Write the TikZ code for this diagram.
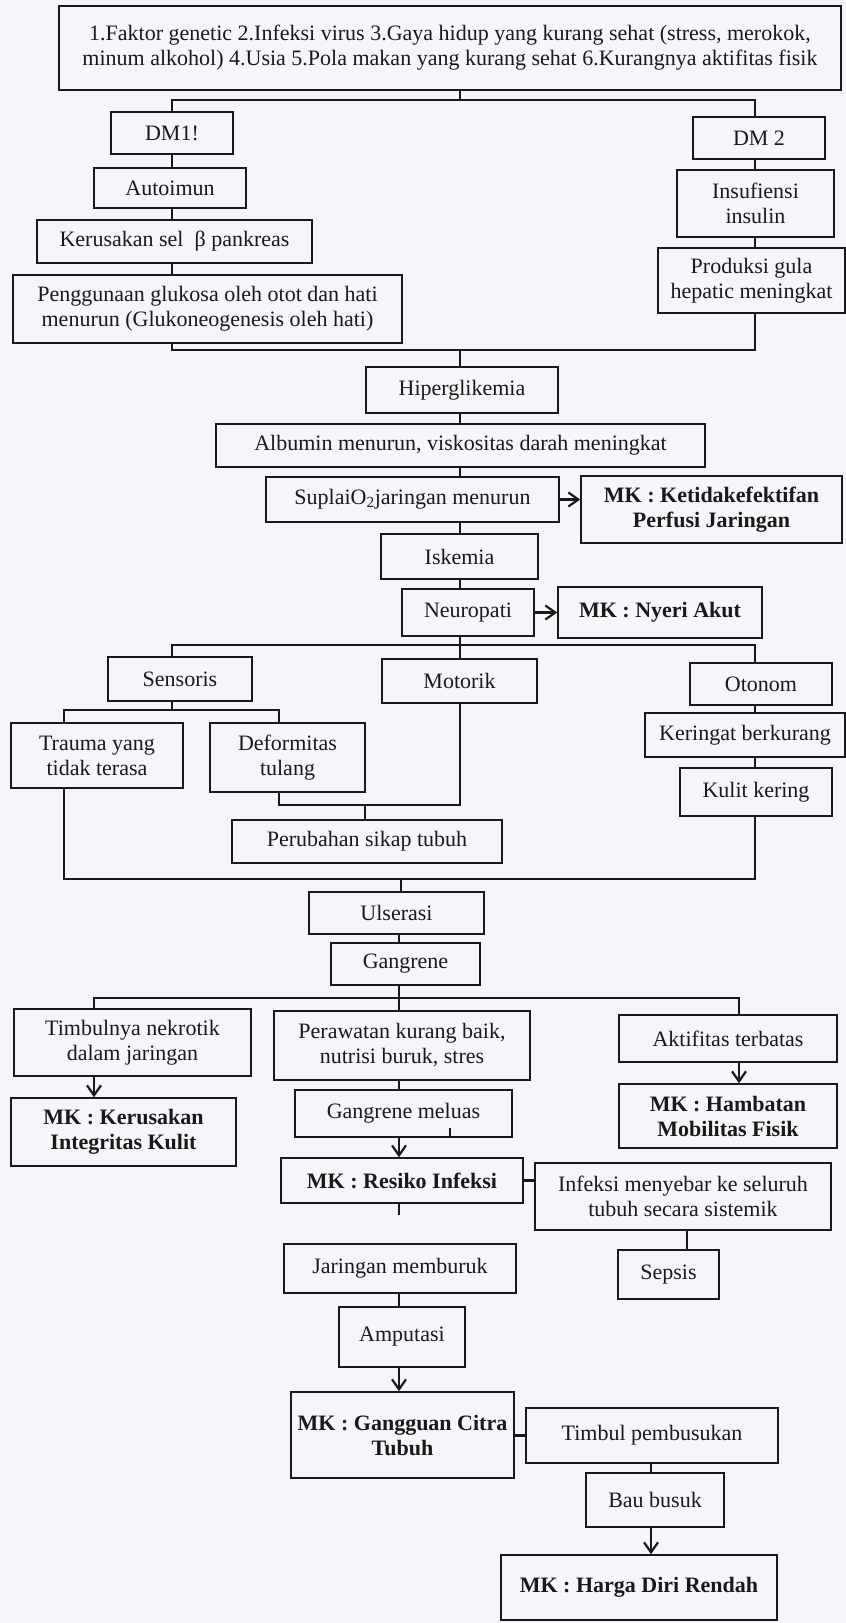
\documentclass[tikz,border=0pt]{standalone}
\usepackage{fontspec}
\setmainfont{Liberation Serif}
\usetikzlibrary{arrows.meta}
\newcommand\myfs{\fontsize{22}{25}\selectfont}
\definecolor{bgc}{RGB}{246,246,250}
\definecolor{ink}{RGB}{25,25,25}
\begin{document}
\begin{tikzpicture}[x=1pt,y=-1pt,
  box/.style={draw=ink, line width=1.5pt, inner sep=0pt, align=center, font=\myfs, text=ink},
  mk/.style={box, font=\myfs\bfseries},
  conn/.style={draw=ink, line width=2.4pt},
  arr/.style={conn, -{Straight Barb[length=10pt,width=14pt,line width=2.2pt]}}]
\useasboundingbox (0,0) rectangle (846,1623);
\fill[bgc] (0,0) rectangle (846,1623);
% nodes
\node[box, minimum width=782pt, minimum height=84pt] (top) at (450,48) {1.Faktor genetic 2.Infeksi virus 3.Gaya hidup yang kurang sehat (stress, merokok,\\ minum alkohol) 4.Usia 5.Pola makan yang kurang sehat 6.Kurangnya aktifitas fisik};
\node[box, minimum width=122pt, minimum height=42pt] (dm1) at (172,133) {DM1!};
\node[box, minimum width=132pt, minimum height=42pt] (dm2) at (759,138) {DM 2};
\node[box, minimum width=152pt, minimum height=40pt] (auto) at (170,188) {Autoimun};
\node[box, minimum width=275pt, minimum height=43pt] (kerus) at (174.5,241.5) {Kerusakan sel \ β pankreas};
\node[box, minimum width=389pt, minimum height=68pt] (peng) at (207.5,309) {Penggunaan glukosa oleh otot dan hati\\ menurun (Glukoneogenesis oleh hati)};
\node[box, minimum width=157pt, minimum height=67pt] (insuf) at (755.5,203.5) {Insufiensi\\ insulin};
\node[box, minimum width=187pt, minimum height=65pt] (prod) at (751.5,280.5) {Produksi gula\\ hepatic meningkat};
\node[box, minimum width=192pt, minimum height=46pt] (hiper) at (462,390) {Hiperglikemia};
\node[box, minimum width=489pt, minimum height=43pt] (albumin) at (460.5,445.5) {Albumin menurun, viskositas darah meningkat};
\node[box, minimum width=293pt, minimum height=45pt] (suplai) at (412.5,499.5) {SuplaiO\textsubscript{2}jaringan menurun};
\node[mk, minimum width=261pt, minimum height=67pt] (mkperf) at (711.5,509.5) {MK : Ketidakefektifan\\ Perfusi Jaringan};
\node[box, minimum width=157pt, minimum height=45pt] (iskemia) at (459.5,556.5) {Iskemia};
\node[box, minimum width=132pt, minimum height=47pt] (neuro) at (468,612.5) {Neuropati};
\node[mk, minimum width=204pt, minimum height=51pt] (mknyeri) at (660,612.5) {MK : Nyeri Akut};
\node[box, minimum width=144pt, minimum height=44pt] (sensoris) at (180,679) {Sensoris};
\node[box, minimum width=155pt, minimum height=44pt] (motorik) at (459.5,681) {Motorik};
\node[box, minimum width=142pt, minimum height=42pt] (otonom) at (761,684) {Otonom};
\node[box, minimum width=172pt, minimum height=65pt] (trauma) at (97,755.5) {Trauma yang\\ tidak terasa};
\node[box, minimum width=155pt, minimum height=69pt] (deform) at (287.5,757.5) {Deformitas\\ tulang};
\node[box, minimum width=270pt, minimum height=43pt] (perub) at (367,841.5) {Perubahan sikap tubuh};
\node[box, minimum width=200pt, minimum height=44pt] (kering) at (745,735) {Keringat berkurang};
\node[box, minimum width=152pt, minimum height=48pt] (kulit) at (756,792) {Kulit kering};
\node[box, minimum width=175pt, minimum height=42pt] (ulser) at (396.5,913) {Ulserasi};
\node[box, minimum width=149pt, minimum height=42pt] (gangr) at (405.5,964) {Gangrene};
\node[box, minimum width=237pt, minimum height=67pt] (timbul) at (132.5,1042.5) {Timbulnya nekrotik\\ dalam jaringan};
\node[box, minimum width=256pt, minimum height=69pt] (peraw) at (402,1045.5) {Perawatan kurang baik,\\ nutrisi buruk, stres};
\node[box, minimum width=218pt, minimum height=47pt] (aktif) at (728,1038.5) {Aktifitas terbatas};
\node[mk, minimum width=225pt, minimum height=68pt] (mkkerus) at (123.5,1132) {MK : Kerusakan\\ Integritas Kulit};
\node[mk, minimum width=218pt, minimum height=64pt] (mkhamb) at (728,1116) {MK : Hambatan\\ Mobilitas Fisik};
\node[box, minimum width=217pt, minimum height=47pt] (gmeluas) at (403.5,1113.5) {Gangrene meluas};
\node[mk, minimum width=242pt, minimum height=45pt] (mkres) at (402,1180.5) {MK : Resiko Infeksi};
\node[box, minimum width=296pt, minimum height=67pt] (infeksi) at (683,1196.5) {Infeksi menyebar ke seluruh\\ tubuh secara sistemik};
\node[box, minimum width=101pt, minimum height=49pt] (sepsis) at (668.5,1274.5) {Sepsis};
\node[box, minimum width=232pt, minimum height=49pt] (jaringan) at (400,1268.5) {Jaringan memburuk};
\node[box, minimum width=126pt, minimum height=60pt] (amput) at (402,1337) {Amputasi};
\node[mk, minimum width=223pt, minimum height=86pt] (mkcitra) at (402.5,1435) {MK : Gangguan Citra\\ Tubuh};
\node[box, minimum width=252pt, minimum height=55pt] (timbulp) at (652,1435.5) {Timbul pembusukan};
\node[box, minimum width=138pt, minimum height=54pt] (bau) at (655,1500) {Bau busuk};
\node[mk, minimum width=276pt, minimum height=65pt] (mkharga) at (639,1587.5) {MK : Harga Diri Rendah};
% columns
\coordinate (cL) at (172,0);
\coordinate (cC) at (460,0);
\coordinate (cR) at (755,0);
\coordinate (cT) at (64,0);
\coordinate (cD) at (279,0);
\coordinate (cG) at (399,0);
\coordinate (cA) at (94,0);
\coordinate (cB) at (739,0);
\coordinate (cS) at (687,0);
\coordinate (cP) at (651,0);
\coordinate (tk) at (450,0);
% junctions
\coordinate (j1) at (460,100);
\coordinate (j2) at (460,350);
\coordinate (j3) at (460,645);
\coordinate (j4) at (172,710);
\coordinate (j5) at (365,805);
\coordinate (j6) at (401,879);
\coordinate (j7) at (399,998);
% connectors
\draw[conn] (top.south -| j1) -- (j1);
\draw[conn] (dm1.north -| cL) |- (j1) -| (dm2.north -| cR);
\draw[conn] (dm1.south -| cL) -- (auto.north -| cL);
\draw[conn] (auto.south -| cL) -- (kerus.north -| cL);
\draw[conn] (kerus.south -| cL) -- (peng.north -| cL);
\draw[conn] (dm2.south -| cR) -- (insuf.north -| cR);
\draw[conn] (insuf.south -| cR) -- (prod.north -| cR);
\draw[conn] (peng.south -| cL) |- (j2) -| (prod.south -| cR);
\draw[conn] (j2) -- (hiper.north -| j2);
\draw[conn] (hiper.south -| cC) -- (albumin.north -| cC);
\draw[conn] (albumin.south -| cC) -- (suplai.north -| cC);
\draw[arr] (suplai.east) -- (mkperf.west |- suplai.east);
\draw[conn] (suplai.south -| cC) -- (iskemia.north -| cC);
\draw[conn] (iskemia.south -| cC) -- (neuro.north -| cC);
\draw[arr] (neuro.east) -- (mknyeri.west |- neuro.east);
\draw[conn] (neuro.south -| cC) -- (j3);
\draw[conn] (sensoris.north -| cL) |- (j3) -| (otonom.north -| cR);
\draw[conn] (j3) -- (motorik.north -| cC);
\draw[conn] (sensoris.south -| cL) -- (j4);
\draw[conn] (trauma.north -| cT) |- (j4) -| (deform.north -| cD);
\draw[conn] (motorik.south -| cC) |- (j5) -| (deform.south -| cD);
\draw[conn] (j5) -- (perub.north -| j5);
\draw[conn] (otonom.south -| cR) -- (kering.north -| cR);
\draw[conn] (kering.south -| cR) -- (kulit.north -| cR);
\draw[conn] (trauma.south -| cT) |- (j6) -| (kulit.south -| cR);
\draw[conn] (j6) -- (ulser.north -| j6);
\draw[conn] (ulser.south -| cG) -- (gangr.north -| cG);
\draw[conn] (gangr.south -| cG) -- (j7);
\draw[conn] (timbul.north -| cA) |- (j7) -| (aktif.north -| cB);
\draw[conn] (j7) -- (peraw.north -| cG);
\draw[arr] (timbul.south -| cA) -- (mkkerus.north -| cA);
\draw[arr] (aktif.south -| cB) -- (mkhamb.north -| cB);
\draw[conn] (peraw.south -| cG) -- (gmeluas.north -| cG);
\draw[conn] (gmeluas.south -| tk) -- ++(0,-10);
\draw[arr] (gmeluas.south -| cG) -- (mkres.north -| cG);
\draw[conn] (mkres.east) -- (infeksi.west |- mkres.east);
\draw[conn] (mkres.south -| cG) -- ++(0,11);
\draw[conn] (infeksi.south -| cS) -- (sepsis.north -| cS);
\draw[conn] (jaringan.south -| cG) -- (amput.north -| cG);
\draw[arr] (amput.south -| cG) -- (mkcitra.north -| cG);
\draw[conn] (timbulp.west) -- (mkcitra.east |- timbulp.west);
\draw[conn] (timbulp.south -| cP) -- (bau.north -| cP);
\draw[arr] (bau.south -| cP) -- (mkharga.north -| cP);
\end{tikzpicture}
\end{document}
